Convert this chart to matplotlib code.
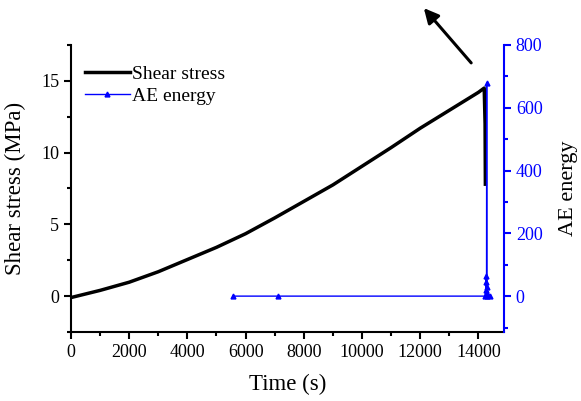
import matplotlib
matplotlib.use("Agg")
import matplotlib.pyplot as plt
from matplotlib.patches import FancyArrowPatch
from matplotlib.ticker import MultipleLocator

plt.rcParams['font.family'] = ['Liberation Serif']

# shear stress record (time in s, stress in MPa)
time_s = [0, 1000, 2000, 3000, 4000, 5000, 6000, 7000, 8000, 9000, 10000,
          11000, 12000, 13000, 14000, 14200, 14230, 14240]
stress = [-0.1, 0.4, 0.97, 1.7, 2.55, 3.4, 4.35, 5.45, 6.6, 7.75, 9.05,
          10.35, 11.7, 12.95, 14.2, 14.5, 12.0, 7.8]

# acoustic emission energy events
ae_time = [5578, 7124, 14230, 14250, 14260, 14270, 14280, 14285, 14290, 14300, 14400]
ae_energy = [0, 0, 0, 20, 45, 64, 30, 680, 10, 0, 0]

fig = plt.figure(figsize=(5.81, 4.01), dpi=100)
ax = fig.add_axes([71/581, 1-332/401, 433/581, 287/401])
ax2 = ax.twinx()

ax.plot(time_s, stress, color='black', lw=2.5, label='Shear stress')
ax2.plot(ae_time, ae_energy, color='blue', lw=1, marker='^', ms=3.5, label='AE energy')

ax.set_xlim(0, 14880)
ax.set_ylim(-2.5, 17.5)
ax2.set_ylim(-114.3, 800)

ax.xaxis.set_major_locator(MultipleLocator(2000))
ax.xaxis.set_minor_locator(MultipleLocator(1000))
ax.yaxis.set_major_locator(MultipleLocator(5))
ax.yaxis.set_minor_locator(MultipleLocator(2.5))
ax2.yaxis.set_major_locator(MultipleLocator(200))
ax2.yaxis.set_minor_locator(MultipleLocator(100))

for a in (ax, ax2):
    a.spines['top'].set_visible(False)
ax.spines['left'].set_linewidth(1.5)
ax.spines['bottom'].set_linewidth(1.5)
ax.spines['right'].set_visible(False)
ax2.spines['left'].set_visible(False)
ax2.spines['bottom'].set_visible(False)
ax2.spines['right'].set_color('blue')
ax2.spines['right'].set_linewidth(1.5)

ax.tick_params(which='both', direction='out', width=1.5, labelsize=13, colors='black')
ax.tick_params(which='major', length=5)
ax.tick_params(which='minor', length=3)
ax2.tick_params(which='both', direction='out', width=1.5, labelsize=13, colors='blue')
ax2.tick_params(which='major', length=5)
ax2.tick_params(which='minor', length=3)

ax.set_xlabel('Time (s)', fontsize=16.5)
ax.set_ylabel('Shear stress (MPa)', fontsize=16.5)
ax2.set_ylabel('AE energy', fontsize=16, color='black')
ax.xaxis.set_label_coords(0.5, -0.146)
ax.yaxis.set_label_coords(-0.104, 0.5)
ax2.yaxis.set_label_coords(1.126, 0.5)

h1, l1 = ax.get_legend_handles_labels()
h2, l2 = ax2.get_legend_handles_labels()
ax.legend(h1 + h2, l1 + l2, loc='upper left', bbox_to_anchor=(0.032, 0.93),
          borderaxespad=0, borderpad=0, frameon=False, fontsize=14,
          handlelength=2.3, handletextpad=0.15, labelspacing=0.25)

# arrow pointing up-left above the failure point
fig.add_artist(FancyArrowPatch(
    (473/581, 1-65/401), (422/581, 1-6/401), transform=fig.transFigure,
    arrowstyle='-|>', mutation_scale=22, lw=2.2, color='black'))

fig.savefig('out.png', dpi=100)
